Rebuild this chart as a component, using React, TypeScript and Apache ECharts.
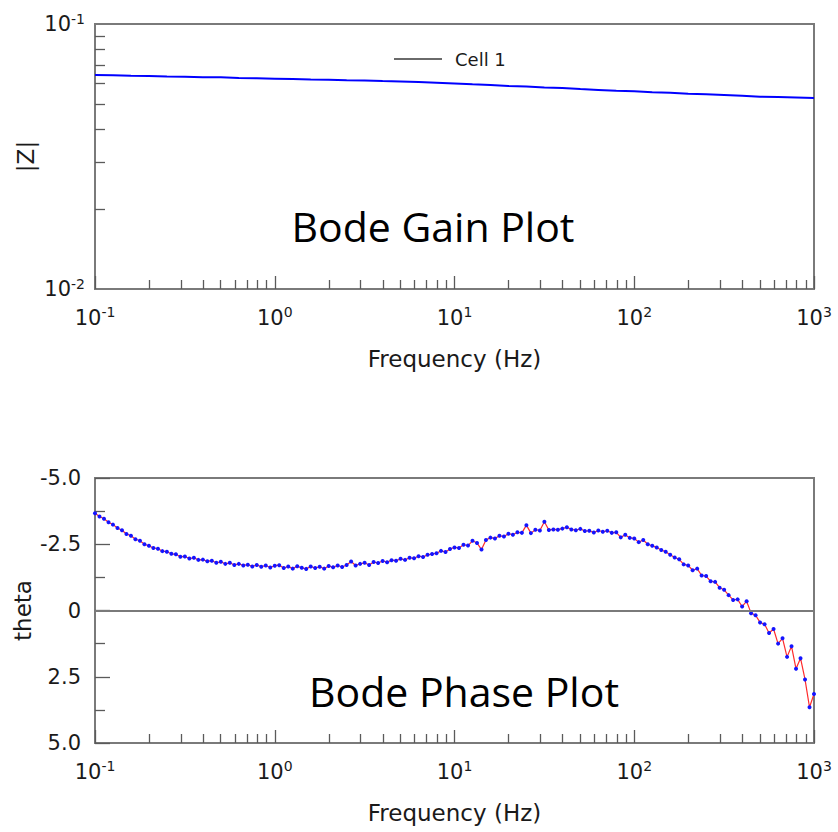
import React, { useEffect, useRef } from "react";
import * as echarts from "echarts";

// ---- data ----
const DECADES = [0.1, 1, 10, 100];
const LAST_FREQ = 1000;

// |Z| sampled 10 points per decade
const GAIN_MANT = [1.0, 1.259, 1.585, 1.995, 2.512, 3.162, 3.981, 5.012, 6.31, 7.943];
const GAIN_Z = [
  0.0642, 0.0641, 0.0638, 0.0637, 0.0634, 0.0633, 0.063, 0.0629, 0.0626, 0.0624,
  0.0622, 0.062, 0.0617, 0.0616, 0.0613, 0.0612, 0.0609, 0.0607, 0.0604, 0.06,
  0.0596, 0.0592, 0.0589, 0.0584, 0.0581, 0.0576, 0.0573, 0.0568, 0.0564, 0.056,
  0.0557, 0.0553, 0.055, 0.0546, 0.0543, 0.054, 0.0536, 0.0532, 0.053, 0.0528,
  0.0526,
];

// theta sampled 40 points per decade
const PHASE_MANT = [
  1.0, 1.059, 1.122, 1.189, 1.259, 1.334, 1.413, 1.496, 1.585, 1.679,
  1.778, 1.884, 1.995, 2.113, 2.239, 2.371, 2.512, 2.661, 2.818, 2.985,
  3.162, 3.35, 3.548, 3.758, 3.981, 4.217, 4.467, 4.732, 5.012, 5.309,
  5.623, 5.957, 6.31, 6.683, 7.079, 7.499, 7.943, 8.414, 8.913, 9.441,
];
const PHASE_THETA = [
  -3.67, -3.55, -3.46, -3.33, -3.24, -3.11, -3.03, -2.89, -2.82, -2.69,
  -2.63, -2.5, -2.44, -2.36, -2.33, -2.24, -2.22, -2.14, -2.12, -2.03,
  -2.04, -1.96, -1.99, -1.91, -1.92, -1.86, -1.88, -1.8, -1.84, -1.76,
  -1.8, -1.72, -1.76, -1.7, -1.73, -1.66, -1.72, -1.65, -1.7, -1.62,
  -1.69, -1.71, -1.6, -1.66, -1.58, -1.67, -1.61, -1.57, -1.66, -1.6,
  -1.65, -1.58, -1.68, -1.63, -1.7, -1.64, -1.72, -1.85, -1.7, -1.76,
  -1.8, -1.72, -1.83, -1.79, -1.87, -1.82, -1.9, -1.88, -1.95, -1.91,
  -1.99, -1.97, -2.05, -2.02, -2.1, -2.13, -2.16, -2.25, -2.21, -2.32,
  -2.38, -2.36, -2.48, -2.45, -2.63, -2.55, -2.3, -2.66, -2.75, -2.72,
  -2.82, -2.79, -2.9, -2.86, -2.95, -2.93, -3.22, -2.92, -3.05, -3.02,
  -3.35, -3.04, -3.06, -3.05, -3.09, -3.14, -3.06, -3.03, -3.08, -3.0,
  -3.01, -2.94, -3.02, -2.97, -3.01, -2.93, -2.95, -2.76, -2.86, -2.74,
  -2.72, -2.58, -2.66, -2.5, -2.44, -2.38, -2.28, -2.22, -2.1, -2.0,
  -1.93, -1.74, -1.7, -1.52, -1.58, -1.32, -1.3, -1.1, -1.08, -0.86,
  -0.78, -0.58, -0.4, -0.42, -0.15, -0.35, 0.1, 0.18, 0.45, 0.52,
  0.85, 0.7, 1.25, 1.05, 1.75, 1.35, 2.2, 1.8, 2.6, 3.65,
  3.15,
];

const X_MINOR_TICKS = [
  0.2, 0.3, 0.4, 0.5, 0.6, 0.7, 0.8, 0.9,
  2, 3, 4, 5, 6, 7, 8, 9,
  20, 30, 40, 50, 60, 70, 80, 90,
  200, 300, 400, 500, 600, 700, 800, 900,
];
const Z_MINOR_TICKS = [0.02, 0.03, 0.04, 0.05, 0.06, 0.07, 0.08, 0.09];

const SERIES_NAME = "Cell 1";
const X_NAME = "Frequency (Hz)";
const GAIN_TITLE = "Bode Gain Plot";
const PHASE_TITLE = "Bode Phase Plot";

// ---- styles ----
const FONT = "DejaVu Sans";
const TXT = "#1a1a1a";
const AXIS_GRAY = "#7a7a7a";
const TICK_GRAY = "#5a5a5a";

const buildFreq = (mant: number[]) =>
  DECADES.flatMap((d) => mant.map((m) => +(m * d).toPrecision(4))).concat([LAST_FREQ]);

const powLabel = (v: number) => `{b|10}{s|${Math.round(Math.log10(v))}}`;
const powRich = {
  b: { fontFamily: FONT, fontSize: 21, color: TXT },
  s: { fontFamily: FONT, fontSize: 14, color: TXT, padding: [0, 0, 11, 0] },
};

export default function App() {
  const ref = useRef<HTMLDivElement>(null);

  useEffect(() => {
    if (!ref.current) return;
    const chart = echarts.init(ref.current, undefined, { renderer: "svg" });

    const gainFreq = buildFreq(GAIN_MANT);
    const phaseFreq = buildFreq(PHASE_MANT);
    const gainData = gainFreq.map((f, i) => [f, GAIN_Z[i]]);
    const phaseData = phaseFreq.map((f, i) => [f, PHASE_THETA[i]]);

    const majorX = (grid: number) => ({
      type: "log",
      logBase: 10,
      gridIndex: grid,
      min: 0.1,
      max: 1000,
      position: "bottom",
      splitNumber: 4,
      axisLine: { show: true, onZero: false, lineStyle: { color: AXIS_GRAY, width: 2 } },
      axisTick: { show: true, inside: true, length: 13, lineStyle: { color: TICK_GRAY, width: 1.3 } },
      axisLabel: { formatter: powLabel, rich: powRich, margin: 16 },
      splitLine: { show: false },
      name: X_NAME,
      nameLocation: "middle",
      nameGap: 58,
      nameTextStyle: { fontFamily: FONT, fontSize: 23, color: TXT },
    });
    const minorX = (grid: number) => ({
      type: "log",
      logBase: 10,
      gridIndex: grid,
      min: 0.1,
      max: 1000,
      position: "bottom",
      axisLine: { show: false, onZero: false },
      axisTick: {
        show: true,
        inside: true,
        length: 9,
        customValues: X_MINOR_TICKS,
        lineStyle: { color: TICK_GRAY, width: 1.3 },
      },
      axisLabel: { show: false },
      splitLine: { show: false },
    });

    const option: any = {
      animation: false,
      backgroundColor: "#ffffff",
      grid: [
        { left: 95, right: 24, top: 24, height: 265, show: true, borderColor: AXIS_GRAY, borderWidth: 2 },
        { left: 95, right: 24, top: 478, height: 265, show: true, borderColor: AXIS_GRAY, borderWidth: 2 },
      ],
      legend: {
        data: [{ name: SERIES_NAME, icon: "rect", itemStyle: { color: "#6a6a6a" } }],
        left: 394,
        top: 50,
        itemWidth: 48,
        itemHeight: 2,
        padding: 0,
        selectedMode: false,
        textStyle: { fontFamily: FONT, fontSize: 18, color: TXT, padding: [0, 0, 0, 8] },
      },
      xAxis: [majorX(0), minorX(0), majorX(1), minorX(1)],
      yAxis: [
        {
          type: "log",
          logBase: 10,
          gridIndex: 0,
          min: 0.01,
          max: 0.1,
          axisLine: { show: true, onZero: false, lineStyle: { color: AXIS_GRAY, width: 2 } },
          axisTick: {
            show: true,
            inside: true,
            length: 10,
            customValues: Z_MINOR_TICKS,
            lineStyle: { color: TICK_GRAY, width: 1.3 },
          },
          axisLabel: { formatter: powLabel, rich: powRich, margin: 10 },
          splitLine: { show: false },
          name: "|Z|",
          nameLocation: "middle",
          nameRotate: 90,
          nameGap: 58,
          nameMoveOverlap: false,
          nameTextStyle: { fontFamily: FONT, fontSize: 23, color: TXT },
        },
        {
          type: "value",
          gridIndex: 1,
          inverse: true,
          min: -5,
          max: 5,
          interval: 2.5,
          axisLine: { show: true, onZero: false, lineStyle: { color: AXIS_GRAY, width: 2 } },
          axisTick: { show: true, inside: true, length: 15, lineStyle: { color: TICK_GRAY, width: 1.3 } },
          minorTick: { show: true, splitNumber: 2, length: 10, lineStyle: { color: TICK_GRAY, width: 1.3 } },
          axisLabel: {
            fontFamily: FONT,
            fontSize: 21,
            color: TXT,
            margin: 14,
            formatter: (v: number) => (v === 0 ? "0" : v.toFixed(1)),
          },
          splitLine: { show: false },
          name: "theta",
          nameLocation: "middle",
          nameRotate: 90,
          nameGap: 61,
          nameMoveOverlap: false,
          nameTextStyle: { fontFamily: FONT, fontSize: 23, color: TXT },
        },
      ],
      series: [
        {
          name: SERIES_NAME,
          type: "line",
          xAxisIndex: 0,
          yAxisIndex: 0,
          data: gainData,
          symbol: "none",
          color: "#0000ff",
          lineStyle: { color: "#0000ff", width: 2 },
        },
        {
          name: "phase",
          type: "line",
          xAxisIndex: 2,
          yAxisIndex: 1,
          data: phaseData,
          symbol: "circle",
          symbolSize: 4,
          showSymbol: true,
          itemStyle: { color: "#1414ff" },
          lineStyle: { color: "#ff2a2a", width: 1.2 },
          markLine: {
            silent: true,
            symbol: ["none", "none"],
            label: { show: false },
            lineStyle: { color: AXIS_GRAY, width: 2, type: "solid" },
            data: [{ yAxis: 0 }],
          },
        },
      ],
      graphic: [
        {
          type: "text",
          x: 433,
          y: 226,
          style: {
            text: GAIN_TITLE,
            fontFamily: "Open Sans",
            fontSize: 41,
            fill: "#000000",
            align: "center",
            verticalAlign: "middle",
          },
        },
        {
          type: "text",
          x: 464,
          y: 691,
          style: {
            text: PHASE_TITLE,
            fontFamily: "Open Sans",
            fontSize: 41,
            fill: "#000000",
            align: "center",
            verticalAlign: "middle",
          },
        },
      ],
    };

    chart.setOption(option);
    return () => chart.dispose();
  }, []);

  return (
    <div
      ref={ref}
      style={{ position: "absolute", left: 0, top: 0, width: 838, height: 832, background: "#fff" }}
    />
  );
}
